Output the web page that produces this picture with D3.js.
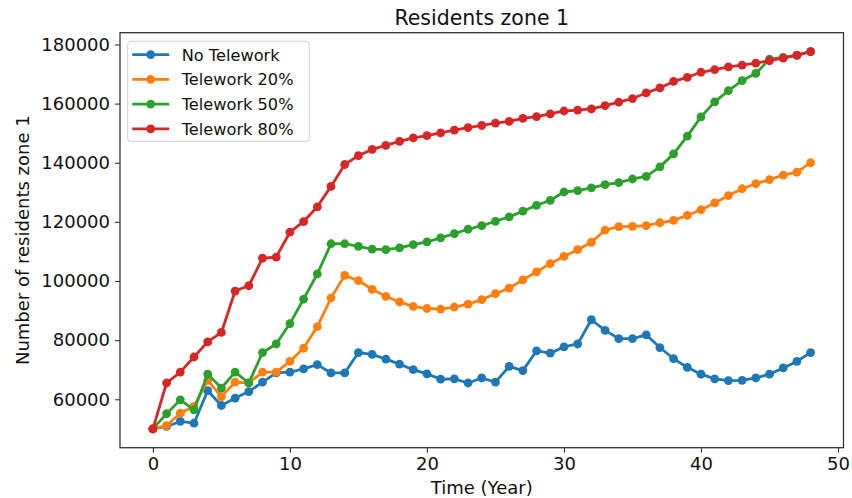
<!DOCTYPE html>
<html>
<head>
<meta charset="utf-8">
<script src="https://cdn.jsdelivr.net/npm/d3@7"></script>
<style>
  html, body { margin: 0; padding: 0; background: #fff; }
  svg { display: block; font-family: "DejaVu Sans", sans-serif; }
</style>
</head>
<body>
<svg id="chart" width="852" height="498"></svg>
<script>
// Simulated residents in zone 1, one value per year (0..48)
const years = d3.range(0, 49);

const noTelework = [
  50000, 50800, 52500, 51900, 62900, 57900, 60400, 62600, 65800, 68900,
  69200, 70300, 71700, 68900, 68900, 75800, 75200, 73600, 71900, 70000,
  68600, 66800, 66900, 65500, 67200, 65800, 71100, 69700, 76400, 75600,
  77700, 78700, 86900, 83300, 80500, 80500, 81800, 77500, 73700, 70800,
  68500, 66900, 66300, 66400, 67200, 68500, 70600, 72800, 75800
];

const telework20 = [
  50000, 51100, 55300, 57600, 66400, 60900, 65800, 65500, 69200, 69200,
  72800, 77300, 84600, 94300, 101900, 100100, 97200, 94800, 92900, 91400,
  90700, 90500, 91200, 92200, 93700, 95700, 97600, 100400, 103100, 105900,
  108300, 110600, 113100, 117200, 118400, 118500, 118700, 119700, 120500, 122200,
  124100, 126400, 128900, 131200, 132900, 134300, 135800, 136800, 140000
];

const telework50 = [
  50000, 55100, 59800, 56400, 68500, 63800, 69200, 65500, 75800, 78700,
  85600, 93900, 102400, 112600, 112600, 111700, 110800, 110600, 111200, 112300,
  113200, 114600, 116000, 117500, 118700, 120200, 121700, 123600, 125600, 127300,
  130100, 130600, 131500, 132600, 133300, 134500, 135400, 138600, 143000, 149000,
  155500, 160600, 164400, 167800, 170200, 175000, 175600, 176400, 177600
];

const telework80 = [
  50000, 65500, 69200, 74300, 79400, 82600, 96600, 98400, 107700, 108100,
  116500, 120100, 125100, 132000, 139400, 142400, 144500, 145900, 147200, 148400,
  149200, 150100, 151000, 151900, 152600, 153400, 154000, 155000, 155600, 156500,
  157500, 157800, 158200, 159300, 160500, 161700, 163600, 165300, 167500, 168900,
  170600, 171500, 172400, 173000, 173700, 174500, 175400, 176300, 177600
];

const seriesNames = ["No Telework", "Telework 20%", "Telework 50%", "Telework 80%"];
const seriesValues = [noTelework, telework20, telework50, telework80];
const seriesColors = ["#1f77b4", "#ff7f0e", "#2ca02c", "#d62728"];

const xTicks = [0, 10, 20, 30, 40, 50];
const yTicks = [60000, 80000, 100000, 120000, 140000, 160000, 180000];

const titleText = "Residents zone 1";
const xLabelText = "Time (Year)";
const yLabelText = "Number of residents zone 1";

// Plot frame
const W = 852, H = 498;
const frame = { left: 120, right: 843.5, top: 32.7, bottom: 447.7 };

// Axis limits padded by 5% of the data span on each side
const xExt = d3.extent(years);
const xPad = (xExt[1] - xExt[0]) * 0.05;
const allVals = seriesValues.flat();
const yExt = d3.extent(allVals);
const yPad = (yExt[1] - yExt[0]) * 0.05;

const x = d3.scaleLinear()
  .domain([xExt[0] - xPad, xExt[1] + xPad])
  .range([frame.left, frame.right]);
const y = d3.scaleLinear()
  .domain([yExt[0] - yPad, yExt[1] + yPad])
  .range([frame.bottom, frame.top]);

const svg = d3.select("#chart");
svg.append("rect").attr("width", W).attr("height", H).attr("fill", "#fff");

// Lines with circle markers, drawn in series order
const line = d3.line().x((d, i) => x(years[i])).y(d => y(d));
const plot = svg.append("g");
seriesValues.forEach((vals, k) => {
  const g = plot.append("g");
  g.append("path")
    .datum(vals)
    .attr("d", line)
    .attr("fill", "none")
    .attr("stroke", seriesColors[k])
    .attr("stroke-width", 2.8)
    .attr("stroke-linejoin", "round")
    .attr("stroke-linecap", "square");
  g.selectAll("circle")
    .data(vals)
    .join("circle")
    .attr("cx", (d, i) => x(years[i]))
    .attr("cy", d => y(d))
    .attr("r", 4.4)
    .attr("fill", seriesColors[k]);
});

// Axes
const axisColor = "#333";
const xAxis = svg.append("g")
  .attr("transform", `translate(0,${frame.bottom})`)
  .call(d3.axisBottom(x).tickValues(xTicks).tickSize(5).tickPadding(5).tickFormat(d3.format("d")));
const yAxis = svg.append("g")
  .attr("transform", `translate(${frame.left},0)`)
  .call(d3.axisLeft(y).tickValues(yTicks).tickSize(5).tickPadding(5).tickFormat(d3.format("d")));

[xAxis, yAxis].forEach(a => {
  a.select(".domain").remove();
  a.selectAll(".tick line").attr("stroke", axisColor).attr("stroke-width", 1.1);
  a.selectAll(".tick text")
    .attr("fill", "#111")
    .style("font-family", "DejaVu Sans, sans-serif")
    .style("font-size", "18px");
});

// Frame
svg.append("rect")
  .attr("x", frame.left).attr("y", frame.top)
  .attr("width", frame.right - frame.left)
  .attr("height", frame.bottom - frame.top)
  .attr("fill", "none")
  .attr("stroke", axisColor)
  .attr("stroke-width", 1.3);

// Title and axis labels
svg.append("text")
  .attr("x", (frame.left + frame.right) / 2)
  .attr("y", 25)
  .attr("text-anchor", "middle")
  .attr("font-size", 20.5)
  .attr("fill", "#111")
  .text(titleText);

svg.append("text")
  .attr("x", (frame.left + frame.right) / 2)
  .attr("y", 494)
  .attr("text-anchor", "middle")
  .attr("font-size", 18)
  .attr("fill", "#111")
  .text(xLabelText);

svg.append("text")
  .attr("transform", `translate(29,${(frame.top + frame.bottom) / 2}) rotate(-90)`)
  .attr("text-anchor", "middle")
  .attr("font-size", 18)
  .attr("fill", "#111")
  .text(yLabelText);

// Legend
const legend = svg.append("g").attr("transform", "translate(127.7,41.3)");
legend.append("rect")
  .attr("width", 181.6).attr("height", 100)
  .attr("rx", 3).attr("ry", 3)
  .attr("fill", "#fff").attr("fill-opacity", 0.8)
  .attr("stroke", "#d0d0d0").attr("stroke-width", 1);
seriesNames.forEach((name, k) => {
  const cy = 13.4 + k * 24.7;
  legend.append("line")
    .attr("x1", 4.5).attr("x2", 41.5)
    .attr("y1", cy).attr("y2", cy)
    .attr("stroke", seriesColors[k]).attr("stroke-width", 2.8);
  legend.append("circle")
    .attr("cx", 23).attr("cy", cy).attr("r", 4.4)
    .attr("fill", seriesColors[k]);
  legend.append("text")
    .attr("x", 54).attr("y", cy)
    .attr("dy", "0.36em")
    .attr("font-size", 16.2)
    .attr("fill", "#111")
    .text(name);
});
</script>
</body>
</html>
